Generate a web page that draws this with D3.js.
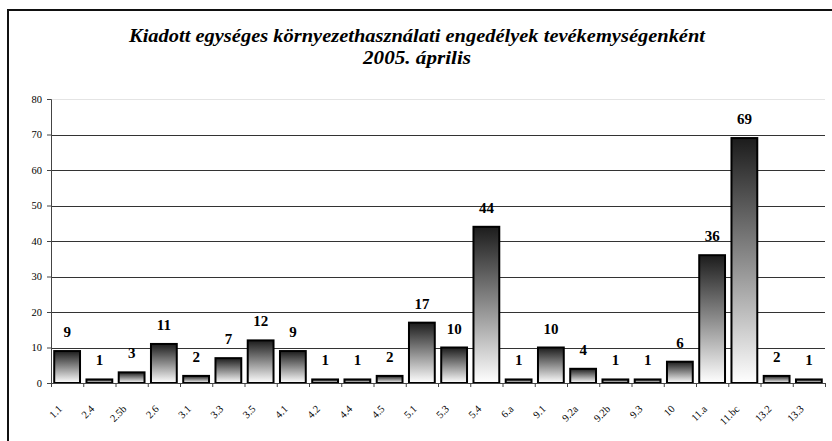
<!DOCTYPE html>
<html>
<head>
<meta charset="utf-8">
<script src="https://cdn.jsdelivr.net/npm/d3@7"></script>
<style>
  body { margin: 0; background: #fff; }
  svg { display: block; }
  text { font-family: 'Liberation Serif', 'Times New Roman', serif; }
</style>
</head>
<body>
<div id="chart"></div>
<script>
// data
var categories = ["1.1", "2.4", "2.5b", "2.6", "3.1", "3.3", "3.5", "4.1", "4.2", "4.4", "4.5", "5.1",
                  "5.3", "5.4", "6.a", "9.1", "9.2a", "9.2b", "9.3", "10", "11.a", "11.bc", "13.2", "13.3"];
var values = [9, 1, 3, 11, 2, 7, 12, 9, 1, 1, 2, 17, 10, 44, 1, 10, 4, 1, 1, 6, 36, 69, 2, 1];
var yTicks = [0, 10, 20, 30, 40, 50, 60, 70, 80];
var titleLines = ["Kiadott egységes környezethasználati engedélyek tevékemységenként", "2005. április"];

var W = 832, H = 441;
var margin = {top: 99, right: 7, bottom: 58, left: 51};
var width = W - margin.left - margin.right,
    height = H - margin.top - margin.bottom;

var svg = d3.select("#chart").append("svg")
    .attr("width", W)
    .attr("height", H);

// bar gradient: dark top, white bottom
var grad = svg.append("defs").append("linearGradient")
    .attr("id", "barGrad")
    .attr("x1", 0).attr("y1", 0).attr("x2", 0).attr("y2", 1);
grad.append("stop").attr("offset", "0%").attr("stop-color", "#1c1c1c");
grad.append("stop").attr("offset", "50%").attr("stop-color", "#8c8c8c");
grad.append("stop").attr("offset", "100%").attr("stop-color", "#ffffff");

// outer frame (left and top edges are the only ones inside the picture)
svg.append("path")
  .attr("d", "M8,441 L8,10 L832,10")
  .attr("fill", "none")
  .attr("stroke", "#111")
  .attr("stroke-width", 2);

// title
var titleWidths = [576, 108];
svg.selectAll("text.title")
  .data(titleLines)
  .enter().append("text")
  .attr("class", "title")
  .attr("x", 417)
  .attr("y", function(d, i) { return 42 + i * 22; })
  .attr("text-anchor", "middle")
  .attr("font-style", "italic")
  .attr("font-weight", "bold")
  .attr("font-size", "19px")
  .attr("textLength", function(d, i) { return titleWidths[i]; })
  .attr("lengthAdjust", "spacingAndGlyphs")
  .attr("fill", "#000")
  .text(function(d) { return d; });

var g = svg.append("g")
  .attr("transform", "translate(" + margin.left + "," + margin.top + ")");

var x = d3.scaleBand()
  .domain(categories)
  .range([0, width])
  .paddingInner(0.2)
  .paddingOuter(0.1);

var y = d3.scaleLinear()
  .domain([0, 80])
  .range([height, 0]);

// gridlines
g.selectAll("line.grid")
  .data(yTicks.filter(function(d) { return d > 0; }))
  .enter().append("line")
  .attr("class", "grid")
  .attr("x1", 0).attr("x2", width)
  .attr("y1", function(d) { return Math.round(y(d)) + 0.5; })
  .attr("y2", function(d) { return Math.round(y(d)) + 0.5; })
  .attr("stroke", function(d) { return d == 80 ? "#e4e4e4" : "#333"; })
  .attr("stroke-width", 1);

// y axis
var yAxis = g.append("g")
  .call(d3.axisLeft(y).tickValues(yTicks).tickSize(4).tickPadding(5));
yAxis.attr("font-family", null);
yAxis.select(".domain").attr("stroke", "#444");
yAxis.selectAll(".tick line").attr("stroke", "#444");
yAxis.selectAll("text")
  .attr("font-size", "10.5px")
  .attr("fill", "#000");

// bars
g.selectAll("rect.bar")
  .data(values)
  .enter().append("rect")
  .attr("class", "bar")
  .attr("x", function(d, i) { return x(categories[i]); })
  .attr("y", function(d) { return y(d); })
  .attr("width", x.bandwidth())
  .attr("height", function(d) { return height - y(d); })
  .attr("fill", "url(#barGrad)")
  .attr("stroke", "#000")
  .attr("stroke-width", 2);

// value labels
g.selectAll("text.val")
  .data(values)
  .enter().append("text")
  .attr("class", "val")
  .attr("x", function(d, i) { return x(categories[i]) + x.bandwidth() / 2; })
  .attr("y", function(d) { return y(d) - 14; })
  .attr("text-anchor", "middle")
  .attr("font-weight", "bold")
  .attr("font-size", "15px")
  .attr("fill", "#000")
  .text(function(d) { return d; });

// x axis line + separators between categories
g.append("line")
  .attr("x1", 0).attr("x2", width)
  .attr("y1", height + 0.5).attr("y2", height + 0.5)
  .attr("stroke", "#444");

g.selectAll("line.sep")
  .data(categories.concat(["end"]))
  .enter().append("line")
  .attr("class", "sep")
  .attr("x1", function(d, i) { return i * x.step() + 0.5; })
  .attr("x2", function(d, i) { return i * x.step() + 0.5; })
  .attr("y1", height).attr("y2", height + 4)
  .attr("stroke", "#444");

// rotated category labels
g.selectAll("text.cat")
  .data(categories)
  .enter().append("text")
  .attr("class", "cat")
  .attr("transform", function(d) {
    return "translate(" + (x(d) + x.bandwidth() / 2 - 7) + "," + (height + 24) + ") rotate(-45)";
  })
  .attr("text-anchor", "end")
  .attr("dy", "0.35em")
  .attr("font-size", "10.5px")
  .attr("fill", "#000")
  .text(function(d) { return d; });
</script>
</body>
</html>
